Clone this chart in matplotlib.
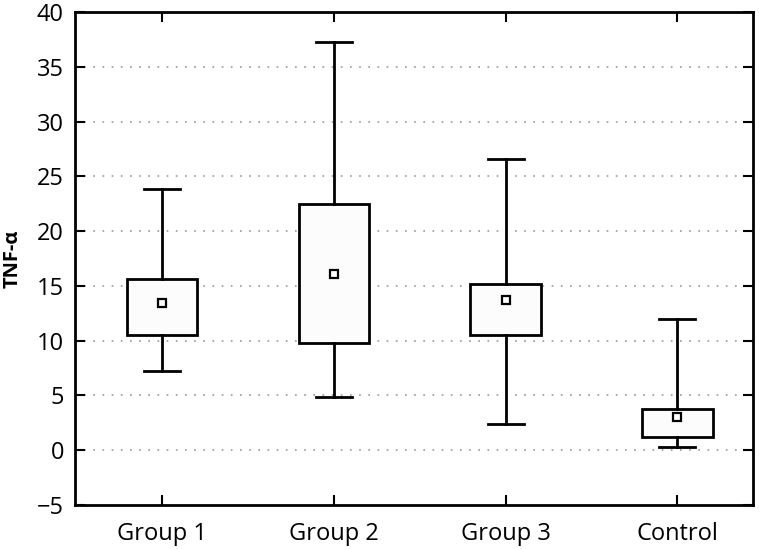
import matplotlib
matplotlib.use("Agg")
import matplotlib.pyplot as plt

categories = ["Group 1", "Group 2", "Group 3", "Control"]
whisker_low = [7.2, 4.85, 2.4, 0.3]
q1 = [10.5, 9.8, 10.5, 1.25]
q3 = [15.6, 22.45, 15.2, 3.8]
whisker_high = [23.8, 37.3, 26.6, 12.0]
means = [13.4, 16.1, 13.7, 3.0]
yticks = [-5, 0, 5, 10, 15, 20, 25, 30, 35, 40]

plt.rcParams['font.family'] = ['Open Sans', 'DejaVu Sans']

fig = plt.figure(figsize=(7.65, 5.49), dpi=100)
ax = fig.add_axes([75/765, 1 - 505/549, (753-75)/765, (505-12)/549])

stats = []
for i, c in enumerate(categories):
    stats.append(dict(label=c, whislo=whisker_low[i], q1=q1[i], med=means[i],
                      q3=q3[i], whishi=whisker_high[i], mean=means[i], fliers=[]))

positions = list(range(1, len(categories) + 1))
lw = 2.0
ax.bxp(stats, positions=positions, widths=0.41, patch_artist=True,
       showmeans=True, showfliers=False, showcaps=True,
       boxprops=dict(facecolor='#fcfcfc', edgecolor='black', linewidth=lw),
       whiskerprops=dict(color='black', linewidth=lw),
       capprops=dict(color='black', linewidth=lw),
       medianprops=dict(linewidth=0),
       meanprops=dict(marker='s', markerfacecolor='white', markeredgecolor='black',
                      markersize=6, markeredgewidth=1.6),
       capwidths=0.21)

for y in yticks:
    if -5 < y < 40:
        ax.axhline(y, color='#999999', linestyle=(0, (1, 4.5)), linewidth=1.2, zorder=0)

ax.set_xlim(0.494, 4.44)
ax.set_ylim(-5, 40)
ax.set_yticks(yticks)
ax.set_yticklabels([str(t).replace('-', '\u2212') for t in yticks])
ax.set_xticks(positions)
ax.set_xticklabels(categories)
ax.tick_params(axis='both', direction='in', length=7, width=1.5, labelsize=17,
               top=True, right=True, pad=8)
ax.tick_params(axis='x', pad=12)
for s in ax.spines.values():
    s.set_linewidth(2.0)
ax.set_ylabel('TNF-\u03b1', fontsize=14.5, fontweight='bold')
ax.yaxis.set_label_coords(-0.077, 0.5)

fig.savefig('out.png', dpi=100)
